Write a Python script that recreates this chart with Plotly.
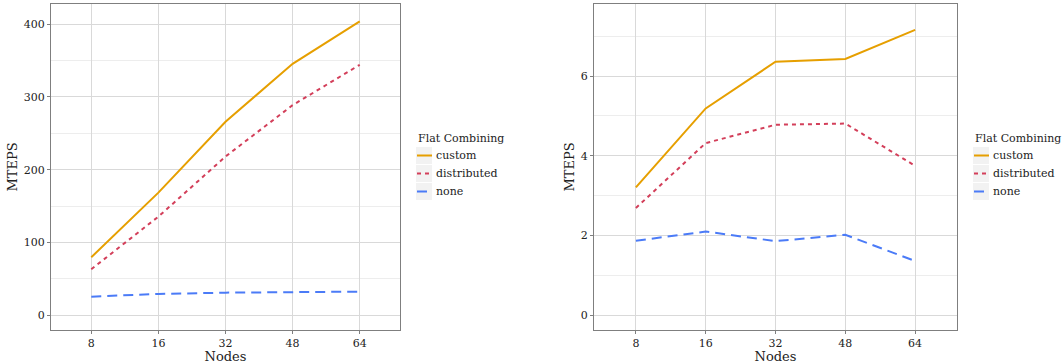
import plotly.graph_objects as go

nodes = ["8", "16", "32", "48", "64"]
series = ["custom", "distributed", "none"]
left_custom = [79.7, 168.5, 265.7, 345.4, 403.6]
left_distributed = [63.2, 135.5, 218.0, 288.6, 344.0]
left_none = [25.6, 29.3, 31.1, 32.0, 32.5]
right_custom = [3.21, 5.19, 6.36, 6.43, 7.16]
right_distributed = [2.69, 4.32, 4.78, 4.81, 3.75]
right_none = [1.87, 2.10, 1.86, 2.02, 1.36]
left_ticks = [0, 100, 200, 300, 400]
right_ticks = [0, 2, 4, 6]
legend_title = "Flat Combining"

colors = {"custom": "#E69F00", "distributed": "#D33F5A", "none": "#4B7BF7"}
dashes = {"custom": "solid", "distributed": "4px,4px", "none": "10px,6px"}

W, H = 1063, 364
FONT = "DejaVu Serif"

fig = go.Figure()
left = {"custom": left_custom, "distributed": left_distributed, "none": left_none}
right = {"custom": right_custom, "distributed": right_distributed, "none": right_none}
for s in series:
    fig.add_trace(go.Scatter(x=nodes, y=left[s], mode="lines", name=s, showlegend=False,
                             line=dict(color=colors[s], width=2, dash=dashes[s]),
                             xaxis="x", yaxis="y"))
for s in series:
    fig.add_trace(go.Scatter(x=nodes, y=right[s], mode="lines", name=s, showlegend=False,
                             line=dict(color=colors[s], width=2, dash=dashes[s]),
                             xaxis="x2", yaxis="y2"))

ydom = [1 - 330 / H, 1 - 4 / H]
axcommon = dict(showline=True, linecolor="#7F7F7F", linewidth=1, mirror=True,
                ticks="outside", ticklen=3, tickcolor="#7F7F7F",
                gridcolor="#D9D9D9", gridwidth=1, zeroline=False,
                tickfont=dict(family=FONT, size=11, color="#222222"))

fig.update_layout(
    width=W, height=H,
    margin=dict(l=0, r=0, t=0, b=0, autoexpand=False),
    paper_bgcolor="white", plot_bgcolor="white",
    font=dict(family=FONT, size=11, color="#222222"),
    showlegend=False,
    xaxis=dict(domain=[51 / W, 400 / W], anchor="y", type="category",
               range=[-0.6, 4.6], categoryorder="array", categoryarray=nodes,
               title=dict(text="Nodes", font=dict(size=13), standoff=6), **axcommon),
    yaxis=dict(domain=ydom, anchor="x", range=[-20.2, 427.5], tickvals=left_ticks,
               minor=dict(tickvals=[50, 150, 250, 350], showgrid=True, gridcolor="#EDEDED", ticks=""),
               title=dict(text="MTEPS", font=dict(size=13), standoff=3), **axcommon),
    xaxis2=dict(domain=[594 / W, 957 / W], anchor="y2", type="category",
                range=[-0.6, 4.6], categoryorder="array", categoryarray=nodes,
                title=dict(text="Nodes", font=dict(size=13), standoff=6), **axcommon),
    yaxis2=dict(domain=ydom, anchor="x2", range=[-0.37, 7.81], tickvals=right_ticks,
                minor=dict(tickvals=[1, 3, 5, 7], showgrid=True, gridcolor="#EDEDED", ticks=""),
                title=dict(text="MTEPS", font=dict(size=13), standoff=3), **axcommon),
)

# Manual legends (key boxes + key lines + labels)
def add_legend(x0, text_x):
    fig.add_annotation(x=x0 / W, y=1 - 138 / H, xref="paper", yref="paper",
                       text=legend_title, showarrow=False, xanchor="left", yanchor="middle",
                       font=dict(size=11))
    for i, s in enumerate(series):
        top = 147 + 18 * i
        fig.add_shape(type="rect", xref="paper", yref="paper",
                      x0=x0 / W, x1=(x0 + 16) / W, y0=1 - top / H, y1=1 - (top + 17) / H,
                      fillcolor="#F2F2F2", line=dict(width=0), layer="below")
        yc = 1 - (top + 8.5) / H
        fig.add_shape(type="line", xref="paper", yref="paper",
                      x0=(x0 + 1) / W, x1=(x0 + 16) / W, y0=yc, y1=yc,
                      line=dict(color=colors[s], width=2, dash=dashes[s]))
        fig.add_annotation(x=text_x / W, y=yc, xref="paper", yref="paper",
                           text=s, showarrow=False, xanchor="left", yanchor="middle",
                           font=dict(size=11))

add_legend(416, 434)
add_legend(973, 991)

fig.write_html("out.html")
